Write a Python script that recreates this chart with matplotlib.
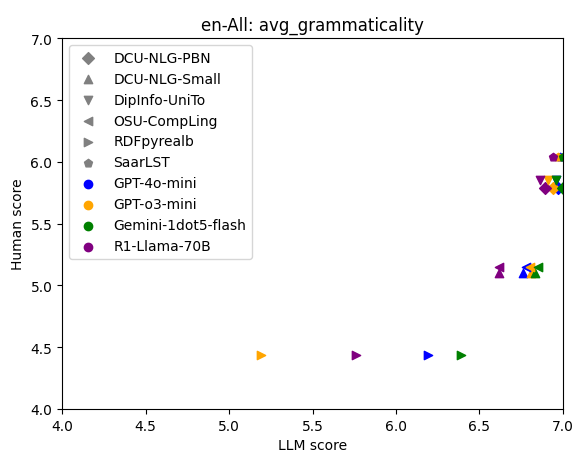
import matplotlib
matplotlib.use('Agg')
import matplotlib.pyplot as plt

systems = ['DCU-NLG-PBN', 'DCU-NLG-Small', 'DipInfo-UniTo', 'OSU-CompLing', 'RDFpyrealb', 'SaarLST']
markers = ['D', '^', 'v', '<', '>', 'p']
models = ['GPT-4o-mini', 'GPT-o3-mini', 'Gemini-1dot5-flash', 'R1-Llama-70B']
colors = ['blue', 'orange', 'green', 'purple']

# human score per system
human = [5.79, 5.10, 5.85, 5.15, 4.44, 6.04]

# llm score per system, per model (GPT-4o-mini, GPT-o3-mini, Gemini, R1)
llm = {
    'DCU-NLG-PBN':   [6.97, 6.94, 7.00, 6.89],
    'DCU-NLG-Small': [6.76, 6.81, 6.83, 6.62],
    'DipInfo-UniTo': [6.96, 6.91, 6.96, 6.86],
    'OSU-CompLing':  [6.78, 6.80, 6.85, 6.62],
    'RDFpyrealb':    [6.19, 5.19, 6.39, 5.76],
    'SaarLST':       [6.98, 6.97, 7.00, 6.94],
}

fig, ax = plt.subplots(figsize=(5.75, 4.56), dpi=100)
fig.subplots_adjust(left=0.108, right=0.979, top=0.914, bottom=0.101)

for s, m, h in zip(systems, markers, human):
    for i, c in enumerate(colors):
        ax.scatter(llm[s][i], h, marker=m, color=c, s=36)

# legend handles
for s, m in zip(systems, markers):
    ax.scatter([], [], marker=m, color='gray', label=s)
for name, c in zip(models, colors):
    ax.scatter([], [], marker='o', color=c, label=name)

ax.set_xlim(4.0, 7.0)
ax.set_ylim(4.0, 7.0)
ax.set_xlabel('LLM score')
ax.set_ylabel('Human score')
ax.set_title('en-All: avg_grammaticality')
ax.legend(loc='upper left')
plt.savefig('out.png')
